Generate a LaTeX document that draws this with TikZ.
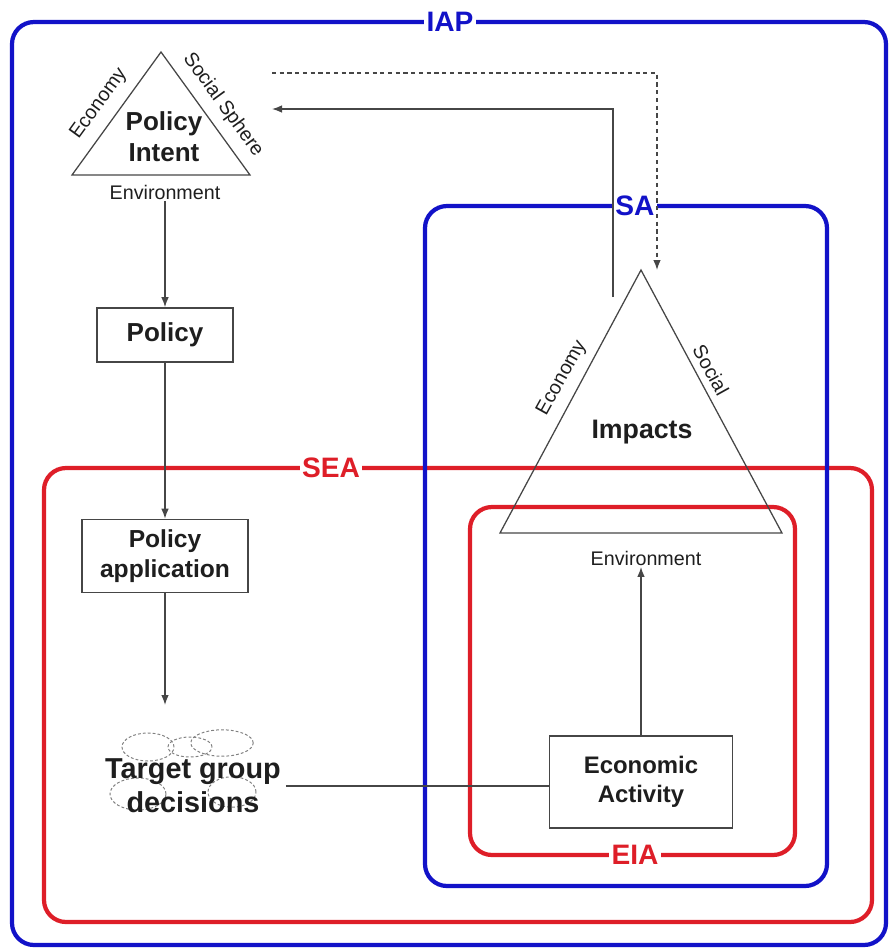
\documentclass[tikz,border=0pt]{standalone}
\usepackage{fontspec}
\setmainfont{Liberation Sans}
\usetikzlibrary{arrows.meta}
\definecolor{iapblue}{RGB}{18,18,200}
\definecolor{seared}{RGB}{222,30,40}
\definecolor{linegray}{RGB}{70,70,70}
\definecolor{inkgray}{RGB}{30,30,30}
\begin{document}
\begin{tikzpicture}[x=0.025cm,y=-0.025cm,
  every node/.style={text=inkgray},
  frame/.style={line width=3pt,rounded corners=0.55cm},
  framelabel/.style={fill=white,inner sep=1.5pt,font=\fontsize{20}{24}\selectfont\bfseries},
  box/.style={draw=linegray,line width=1.1pt,align=center,font=\fontsize{17.5}{21}\selectfont\bfseries},
  big/.style={align=center,font=\fontsize{18.5}{22}\selectfont\bfseries},
  side/.style={font=\fontsize{14}{17}\selectfont,inner sep=1pt},
  link/.style={draw=linegray,line width=1pt},
  arr/.style={link,-{Latex[length=2.5mm,width=1.9mm]}},
  puff/.style={draw=gray,line width=0.7pt,dash pattern=on 2pt off 1.5pt}]
\useasboundingbox (0,0) rectangle (893,949);

% assessment frames
\draw[frame,iapblue] (12,22) rectangle (886,945);
\draw[frame,seared] (44,468) rectangle (872,922);
\draw[frame,iapblue] (425,206) rectangle (827,886);
\draw[frame,seared] (470,507) rectangle (795,855);
\node[framelabel,text=iapblue] (iap) at (450,22) {IAP};
\node[framelabel,text=seared] (sea) at (331,468) {SEA};
\node[framelabel,text=iapblue] (sa) at (635,206) {SA};
\node[framelabel,text=seared] (eia) at (635,855) {EIA};

% policy intent triangle
\coordinate (pi1) at (161,52);
\coordinate (pi2) at (72,175);
\coordinate (pi3) at (250,175);
\draw[linegray,line width=0.9pt] (pi1) -- (pi2) -- (pi3) -- cycle;
\node[big] (intent) at (164,137) {Policy\\Intent};
\node[side,rotate=54] (pieco) at (99,104) {Economy};
\node[side,rotate=-54] (pisoc) at (223,105) {Social Sphere};
\node[side] (pienv) at (165,192) {Environment};

% policy chain
\node[box,minimum width=3.4cm,minimum height=1.35cm,font=\fontsize{18.5}{22}\selectfont\bfseries] (policy) at (165,335) {Policy};
\node[box,minimum width=4.15cm,minimum height=1.825cm] (papp) at (165,556) {Policy\\application};
\coordinate (tgdtop) at (165,705);
\draw[puff] (148,747) ellipse [x radius=0.65cm,y radius=0.35cm];
\draw[puff] (190,747) ellipse [x radius=0.55cm,y radius=0.25cm];
\draw[puff] (222,743) ellipse [x radius=0.78cm,y radius=0.33cm];
\draw[puff] (138,794) ellipse [x radius=0.7cm,y radius=0.4cm];
\draw[puff] (232,792) ellipse [x radius=0.6cm,y radius=0.38cm];
\node[big,font=\fontsize{20.5}{24}\selectfont\bfseries] (tgd) at (193,786) {Target group\\decisions};

% impacts triangle
\coordinate (im1) at (641,270);
\coordinate (im2) at (500,533);
\coordinate (im3) at (782,533);
\draw[linegray,line width=0.9pt] (im1) -- (im2) -- (im3) -- cycle;
\node[big,font=\fontsize{19}{23}\selectfont\bfseries] (impacts) at (642,432) {Impacts};
\node[side,rotate=61] (imeco) at (562,378) {Economy};
\node[side,rotate=-61] (imsoc) at (711,370) {Social};
\node[side] (imenv) at (646,558) {Environment};
\node[box,minimum width=4.575cm,minimum height=2.3cm,font=\fontsize{17}{21}\selectfont\bfseries] (econ) at (641,782) {Economic\\Activity};

% connectors
\draw[arr] (pienv.south) -- (policy.north);
\draw[arr] (policy.south) -- (papp.north);
\draw[arr] (papp.south) -- (tgdtop);
\draw[link] (tgd.east) -- (tgd.east -| econ.west);
\draw[arr] (econ.north) -- (econ.north |- imenv.south);
\coordinate (fbfoot) at (613,297);
\coordinate (fbtip) at (272,109);
\draw[arr] (fbfoot) |- (fbtip);
\coordinate (dstart) at (272,73);
\coordinate (dtip) at (657,270);
\draw[arr,dash pattern=on 3pt off 2.5pt] (dstart) -| (dtip);
\end{tikzpicture}
\end{document}
